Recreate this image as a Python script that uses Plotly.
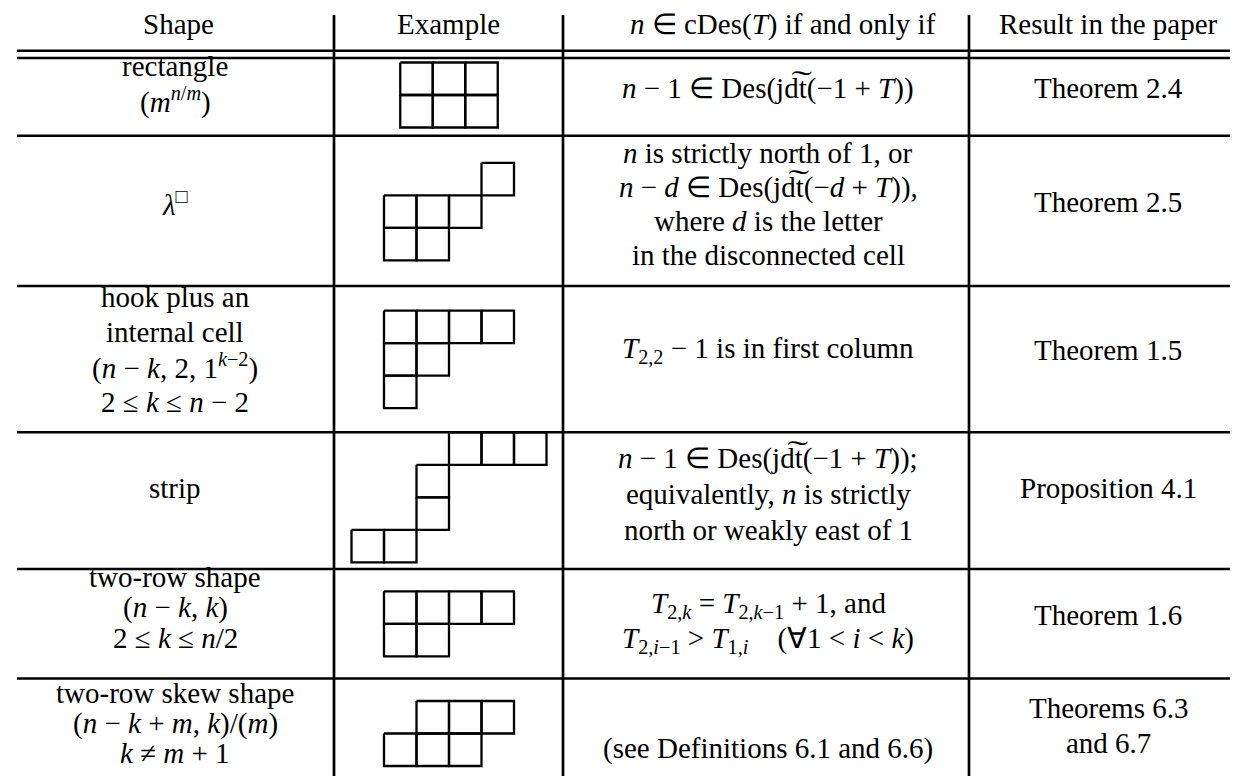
import plotly.graph_objects as go

# table content
headers = ["Shape", "Example", "<i>n</i> ∈ cDes(<i>T</i>) if and only if", "Result in the paper"]

shape_lines = [
    ["rectangle", "(<i>m</i><sup><i>n</i>/<i>m</i></sup>)"],
    ["<i>λ</i><sup>□</sup>"],
    ["hook plus an", "internal cell", "(<i>n</i> − <i>k</i>, 2, 1<sup><i>k</i>−2</sup>)", "2 ≤ <i>k</i> ≤ <i>n</i> − 2"],
    ["strip"],
    ["two-row shape", "(<i>n</i> − <i>k</i>, <i>k</i>)", "2 ≤ <i>k</i> ≤ <i>n</i>/2"],
    ["two-row skew shape", "(<i>n</i> − <i>k</i> + <i>m</i>, <i>k</i>)/(<i>m</i>)", "<i>k</i> ≠ <i>m</i> + 1"],
]

cond_lines = [
    ["<i>n</i> − 1 ∈ Des(jd\u0360t(−1 + <i>T</i>))"],
    ["<i>n</i> is strictly north of 1, or",
     "<i>n</i> − <i>d</i> ∈ Des(jd\u0360t(−<i>d</i> + <i>T</i>)),",
     "where <i>d</i> is the letter",
     "in the disconnected cell"],
    ["<i>T</i><sub>2,2</sub> − 1 is in first column"],
    ["<i>n</i> − 1 ∈ Des(jd\u0360t(−1 + <i>T</i>));",
     "equivalently, <i>n</i> is strictly",
     "north or weakly east of 1"],
    ["<i>T</i><sub>2,<i>k</i></sub> = <i>T</i><sub>2,<i>k</i>−1</sub> + 1, and",
     "<i>T</i><sub>2,<i>i</i>−1</sub> > <i>T</i><sub>1,<i>i</i></sub>\u00a0\u00a0\u00a0\u00a0(∀1 < <i>i</i> < <i>k</i>)"],
    ["(see Definitions 6.1 and 6.6)"],
]

result_lines = [
    ["Theorem 2.4"],
    ["Theorem 2.5"],
    ["Theorem 1.5"],
    ["Proposition 4.1"],
    ["Theorem 1.6"],
    ["Theorems 6.3", "and 6.7"],
]

# young diagrams: (first column, number of cells) for each row, top to bottom
diagrams = [
    [(0, 3), (0, 3)],
    [(3, 1), (0, 3), (0, 2)],
    [(0, 4), (0, 2), (0, 1)],
    [(3, 3), (2, 1), (2, 1), (0, 2)],
    [(0, 4), (0, 2)],
    [(1, 3), (0, 3)],
]

# layout (pixels)
W, H = 1238, 776
col_x = [167, 441, 760, 1100]
header_x = [170, 440, 775, 1100]
header_y = 24
shape_y = [83, 203, 349, 488, 607.5, 723]
shape_gap = [34, 34, 35, 34, 30.5, 30]
cond_y = [88, 203.5, 350, 494, 622.5, 748]
cond_gap = [34, 34, 34, 36, 35, 34]
result_y = [88, 202, 350, 488, 615, 725.5]
result_gap = [34, 34, 34, 34, 34, 35]
diag_cy = [87, 203.6, 351.3, 489.3, 615.8, 725.5]
cell = 32.5
text_shift = -8  # annotation box middle sits below the x-height centre

hrules = [42.7, 50, 127.7, 278, 424.3, 561, 670.5]
vrules = [326, 555, 961]

FONT = dict(family="'Liberation Serif', 'Times New Roman', serif", size=29, color="black")

fig = go.Figure()

# diagram cells
xs, ys = [], []
for rows, cy in zip(diagrams, diag_cy):
    ncol = max(c + n for c, n in rows)
    x0 = col_x[1] - ncol * cell / 2
    y0 = cy - len(rows) * cell / 2
    for r, (c0, n) in enumerate(rows):
        for c in range(c0, c0 + n):
            a, b = x0 + c * cell, y0 + r * cell
            xs += [a, a + cell, a + cell, a, a, None]
            ys += [b, b, b + cell, b + cell, b, None]
fig.add_trace(go.Scatter(x=xs, y=ys, mode="lines", line=dict(color="black", width=2.3),
                         hoverinfo="skip", showlegend=False))

for y in hrules:
    fig.add_shape(type="line", x0=9, x1=W, y0=y, y1=y, line=dict(color="black", width=2.5))
for x in vrules:
    fig.add_shape(type="line", x0=x, x1=x, y0=7, y1=H, line=dict(color="black", width=2.7))


def put(lines, x, cy, gap):
    top = cy - gap * (len(lines) - 1) / 2 + text_shift
    for i, t in enumerate(lines):
        fig.add_annotation(x=x, y=top + i * gap, text=t, showarrow=False,
                           xanchor="center", yanchor="middle", font=FONT)


for t, x in zip(headers, header_x):
    put([t], x, header_y, 0)
for i in range(len(shape_lines)):
    put(shape_lines[i], col_x[0], shape_y[i], shape_gap[i])
    put(cond_lines[i], col_x[2], cond_y[i], cond_gap[i])
    put(result_lines[i], col_x[3], result_y[i], result_gap[i])

fig.update_xaxes(range=[0, W], visible=False, fixedrange=True)
fig.update_yaxes(range=[H, 0], visible=False, fixedrange=True)
fig.update_layout(width=W, height=H, margin=dict(l=0, r=0, t=0, b=0),
                  font=FONT, plot_bgcolor="white", paper_bgcolor="white")

fig.write_html("out.html", config={"displayModeBar": False})
